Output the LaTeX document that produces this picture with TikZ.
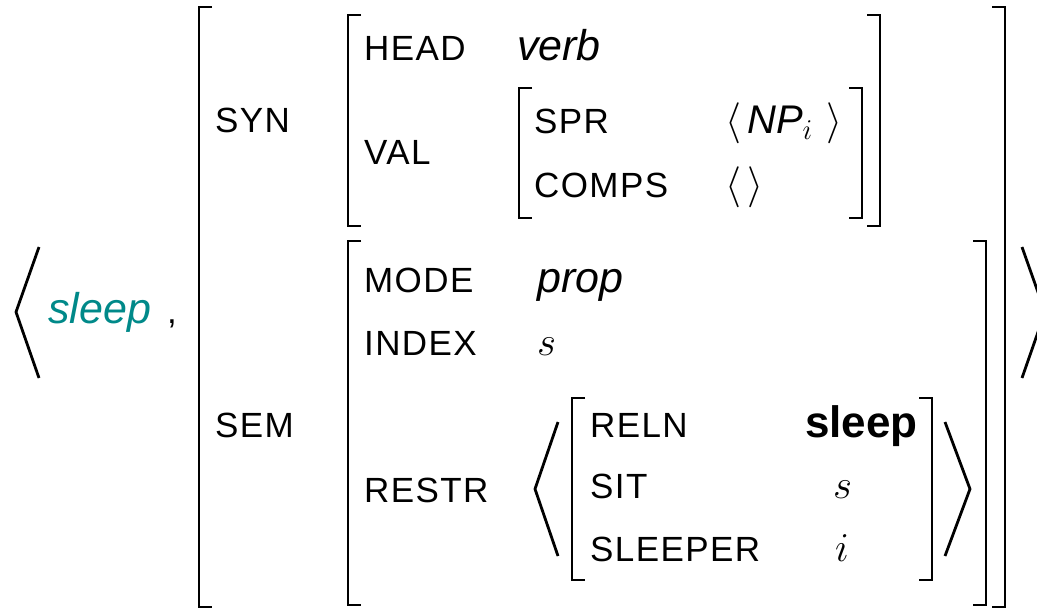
\RequirePackage{fix-cm}
\documentclass[tikz,border=0pt]{standalone}
\usepackage{fontspec}
\setmainfont{Liberation Sans}
\definecolor{lexteal}{RGB}{0,137,137}
\tikzset{
  brk/.style={line width=2.8pt, line cap=butt, line join=miter},
  feat/.style={anchor=base west, inner sep=0pt, font=\fontsize{35}{40}\selectfont\addfontfeatures{LetterSpace=4}},
  valit/.style={anchor=base west, inner sep=0pt, font=\fontsize{43}{48}\selectfont\itshape},
  valbf/.style={anchor=base west, inner sep=0pt, font=\fontsize{44}{48}\selectfont\bfseries},
  valmath/.style={anchor=base west, inner sep=0pt, font=\fontsize{41}{46}\selectfont},
}
\begin{document}
\begin{tikzpicture}[x=1pt,y=-1pt]
\useasboundingbox (0,0) rectangle (1037,614);

% outer list brackets < word , AVM >
\draw[brk] (39,247) -- (16,312) -- (39,378);
\draw[brk] (1022,247) -- (1045,312) -- (1022,378);
\node[valit, text=lexteal] (word) at (48,323) {sleep};
\node[feat] (comma) at (167,323) {,};

% outer AVM
\draw[brk] (212,7) -- (199,7) -- (199,607) -- (212,607);
\draw[brk] (992,7) -- (1005,7) -- (1005,607) -- (992,607);
\node[feat] (syn) at (215,132) {SYN};
\node[feat] (sem) at (215,437) {SEM};

% SYN value
\draw[brk] (361,15) -- (348,15) -- (348,226) -- (361,226);
\draw[brk] (867,15) -- (880,15) -- (880,226) -- (867,226);
\node[feat] (head) at (364,60) {HEAD};
\node[valit] (verb) at (517,60) {verb};
\node[feat] (val) at (364,164) {VAL};

% VAL value
\draw[brk] (532,88) -- (519,88) -- (519,218) -- (532,218);
\draw[brk] (849,88) -- (862,88) -- (862,218) -- (849,218);
\node[feat] (spr) at (534,133) {SPR};
\node[valmath] (sprv) at (725,133) {$\langle$\hspace{6pt}{\fontsize{40}{44}\selectfont\itshape NP}$_{i}$\hspace{14pt}$\rangle$};
\node[feat] (comps) at (534,197) {COMPS};
\node[valmath] (compsv) at (725,197) {$\langle\,\rangle$};

% SEM value
\draw[brk] (361,241) -- (348,241) -- (348,605) -- (361,605);
\draw[brk] (973,241) -- (986,241) -- (986,605) -- (973,605);
\node[feat] (mode) at (364,292) {MODE};
\node[valit] (prop) at (537,292) {prop};
\node[feat] (index) at (364,355) {INDEX};
\node[valmath] (indexv) at (537,355) {$s$};
\node[feat] (restr) at (364,502) {RESTR};

% RESTR list
\draw[brk] (558,422) -- (535,489) -- (558,556);
\draw[brk] (945,422) -- (970,489) -- (945,556);
\draw[brk] (585,398) -- (572,398) -- (572,580) -- (585,580);
\draw[brk] (919,398) -- (932,398) -- (932,580) -- (919,580);
\node[feat] (reln) at (590,437) {RELN};
\node[valbf] (relnv) at (805,437) {sleep};
\node[feat] (sit) at (590,498) {SIT};
\node[valmath] (sitv) at (833,498) {$s$};
\node[feat] (sleeper) at (590,561) {SLEEPER};
\node[valmath] (sleeperv) at (835,561) {$i$};
\end{tikzpicture}
\end{document}
